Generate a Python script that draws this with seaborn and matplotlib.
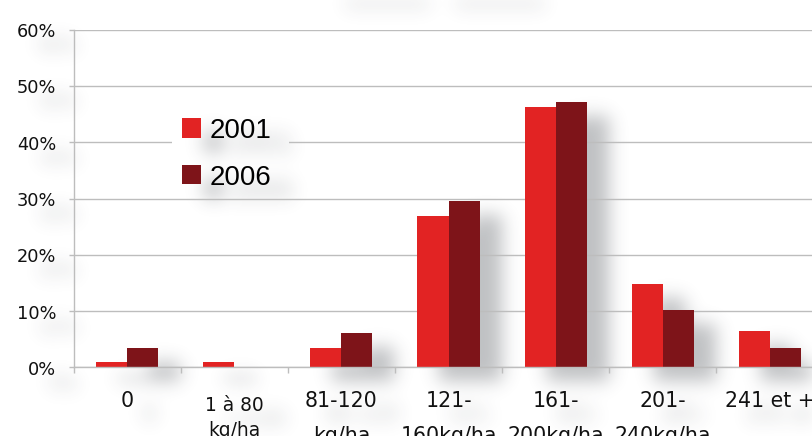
import numpy as np
import pandas as pd
import matplotlib
matplotlib.use("Agg")
import matplotlib.pyplot as plt
from matplotlib.patches import Patch, Rectangle
from matplotlib.transforms import ScaledTranslation
import seaborn as sns

# Données : part des surfaces par classe de dose d'azote
classes = ["0", "1 à 80\nkg/ha", "81-120\nkg/ha", "121-\n160kg/ha",
           "161-\n200kg/ha", "201-\n240kg/ha", "241 et +"]
annees = ["2001", "2006"]
part_2001 = [1.0, 1.0, 3.4, 26.9, 46.3, 14.8, 6.4]
part_2006 = [3.4, 0.0, 6.1, 29.6, 47.2, 10.2, 3.4]
y_ticks = [0, 10, 20, 30, 40, 50, 60]
y_tick_labels = [f"{v}%" for v in y_ticks]

ROUGE = "#e22323"
BORDEAUX = "#7e1419"
GRIS = "#bdbdbd"
TEXTE = "#111111"

sns.set_theme(style="white")
plt.rcParams["font.family"] = ["DejaVu Sans"]

W, H, DPI = 812, 436, 100
fig = plt.figure(figsize=((W + 0.4) / DPI, (H + 0.4) / DPI), dpi=DPI)
fig.patch.set_facecolor("white")
ax = fig.add_axes([73.5 / W, 1 - 367.5 / H, 7 * 107.1 / W, 337.5 / H])
ax.set_facecolor("none")

df = pd.DataFrame({
    "classe": classes * 2,
    "annee": [annees[0]] * len(classes) + [annees[1]] * len(classes),
    "part": part_2001 + part_2006,
})
sns.barplot(data=df, x="classe", y="part", hue="annee", order=classes,
            hue_order=annees, palette=[ROUGE, BORDEAUX], width=0.58,
            saturation=1, errorbar=None, linewidth=0, legend=False, ax=ax)

ax.set_xlim(-0.5, len(classes) - 0.5)
ax.set_ylim(0, 60)
ax.set_xlabel("")
ax.set_ylabel("")
ax.set_yticks(y_ticks, y_tick_labels)
ax.yaxis.grid(True, color=GRIS, linewidth=1.0)
ax.xaxis.grid(False)
ax.set_axisbelow(True)
for s in ("top", "right"):
    ax.spines[s].set_visible(False)
for s in ("left", "bottom"):
    ax.spines[s].set_color(GRIS)
    ax.spines[s].set_linewidth(1.0)

ax.tick_params(axis="y", left=True, length=3.6, width=1.0, color=GRIS,
               pad=9, labelsize=12.8, labelcolor=TEXTE)
ax.set_xticks(np.arange(-0.5, len(classes), 1.0), minor=True)
ax.tick_params(axis="x", which="minor", bottom=True, length=4.3, width=1.0,
               color=GRIS, direction="out")
ax.tick_params(axis="x", which="major", bottom=True, length=0, pad=17,
               labelsize=14.8, labelcolor=TEXTE)
for lbl in ax.get_xticklabels():
    lbl.set_linespacing(1.9)
    if lbl.get_text().startswith("1 à"):
        lbl.set_fontsize(13.4)
        lbl.set_linespacing(1.4)
        lbl.set_transform(lbl.get_transform()
                          + ScaledTranslation(0, -3 / 72, fig.dpi_scale_trans))

# Fond blanc derrière la légende
fond_leg = Rectangle((172 / W, 1 - 192 / H), 117 / W, 84 / H,
                     transform=fig.transFigure, facecolor="white",
                     edgecolor="none", zorder=1)
fig.add_artist(fond_leg)

poignees = [Patch(facecolor=ROUGE, edgecolor="none"),
            Patch(facecolor=BORDEAUX, edgecolor="none")]
leg = fig.legend(poignees, annees, loc="upper left",
                 bbox_to_anchor=(182 / W, 1 - 118 / H), frameon=False,
                 prop={"family": ["Liberation Sans"], "size": 20},
                 handlelength=0.68, handleheight=0.68, handletextpad=0.3,
                 labelspacing=0.75, borderpad=0, borderaxespad=0)
for t in leg.get_texts():
    t.set_color("black")


# Ombres portées : masque des éléments sombres, décalé puis adouci
def flou(a, sigma):
    r = int(3 * sigma)
    k = np.exp(-0.5 * (np.arange(-r, r + 1) / sigma) ** 2)
    k /= k.sum()
    a = np.apply_along_axis(lambda v: np.convolve(v, k, mode="same"), 0, a)
    a = np.apply_along_axis(lambda v: np.convolve(v, k, mode="same"), 1, a)
    return a


fig.canvas.draw()
rgb = np.asarray(fig.canvas.buffer_rgba())[..., :3].astype(float) / 255.0
hh, ww = rgb.shape[:2]
lum = rgb @ np.array([0.299, 0.587, 0.114])
masque = (lum < 0.6).astype(float)

dx, dy = 22, 14
decale = np.zeros_like(masque)
decale[dy:, dx:] = masque[:-dy, :-dx]
# ombre du titre, hors cadre
decale[0:8, 345:430] = 0.45
decale[0:8, 455:545] = 0.45

doux = flou(decale, 9.0)
ombre = np.zeros((hh, ww, 4))
ombre[..., 0] = 0.22
ombre[..., 1] = 0.24
ombre[..., 2] = 0.27
ombre[..., 3] = np.clip(0.32 * doux, 0, 1)
fig.figimage(ombre, xo=0, yo=0, origin="upper", zorder=-1)

ombre_leg = ombre.copy()
zone = np.zeros((hh, ww), dtype=bool)
zone[108:192, 172:289] = True
ombre_leg[~zone, 3] = 0
fig.figimage(ombre_leg, xo=0, yo=0, origin="upper", zorder=2)

fig.savefig("out.png", dpi=DPI)
